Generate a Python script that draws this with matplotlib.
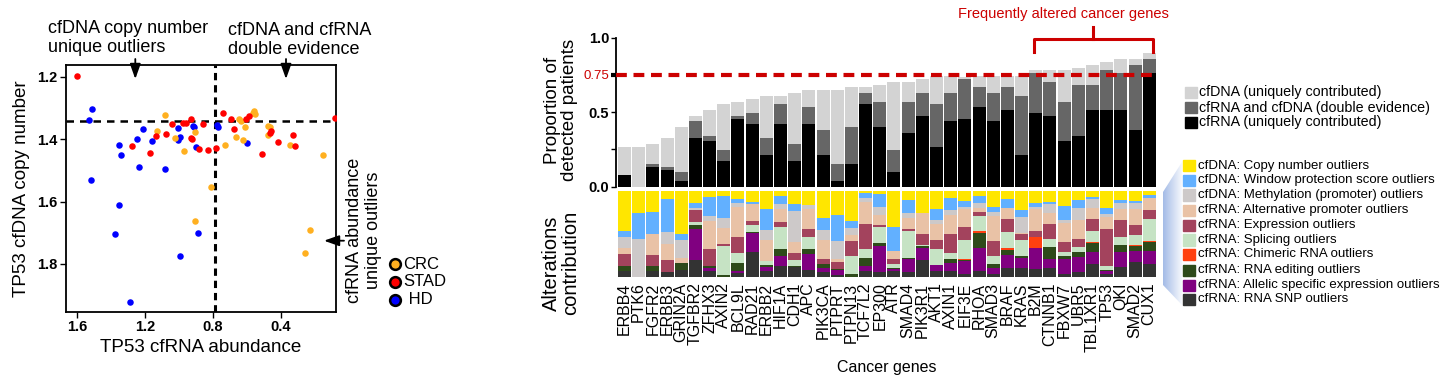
import matplotlib
matplotlib.use('Agg')
import matplotlib.pyplot as plt
import numpy as np
from matplotlib.patches import Rectangle, Polygon

plt.rcParams['font.family'] = ['Liberation Sans', 'DejaVu Sans']

W, H = 1453, 383

# %% scatter: TP53 cfRNA abundance vs cfDNA copy number
crc_x = [1.082, 1.126, 1.021, 0.968, 0.906, 0.908, 0.813, 0.731, 0.663, 0.645, 0.635,
         0.614, 0.622, 0.563, 0.557, 0.551, 0.479, 0.464, 0.479, 0.345, 0.152, 0.228, 0.261]
crc_y = [1.323, 1.373, 1.397, 1.438, 1.378, 1.662, 1.554, 1.419, 1.392, 1.337, 1.342,
         1.360, 1.403, 1.316, 1.310, 1.320, 1.357, 1.362, 1.387, 1.418, 1.452, 1.690, 1.765]
stad_x = [1.597, 1.277, 1.170, 1.136, 1.074, 1.041, 0.975, 0.960, 0.926, 0.926, 0.922,
          0.883, 0.860, 0.830, 0.781, 0.740, 0.694, 0.676, 0.604, 0.588, 0.510, 0.465,
          0.460, 0.417, 0.327, 0.317, 0.084]
stad_y = [1.197, 1.421, 1.444, 1.389, 1.384, 1.352, 1.347, 1.347, 1.336, 1.395, 1.400,
          1.433, 1.351, 1.435, 1.428, 1.317, 1.336, 1.366, 1.335, 1.326, 1.447, 1.381,
          1.375, 1.409, 1.387, 1.423, 1.331]
hd_x = [1.509, 1.526, 1.516, 1.349, 1.343, 1.353, 1.378, 1.246, 1.236, 1.212, 1.288,
        1.160, 1.082, 1.006, 0.996, 1.008, 0.916, 0.913, 0.901, 0.887, 0.992, 0.779,
        0.768, 0.600]
hd_y = [1.305, 1.340, 1.531, 1.419, 1.451, 1.610, 1.704, 1.400, 1.490, 1.369, 1.922,
        1.406, 1.497, 1.363, 1.394, 1.403, 1.357, 1.362, 1.426, 1.702, 1.774, 1.355,
        1.360, 1.411]
rna_cut, dna_cut = 0.79, 1.341
groups = ['CRC', 'STAD', 'HD']
group_colors = ['#ffb020', '#ff0000', '#0000ff']

# %% bars: proportion of detected patients per gene
genes = ['ERBB4', 'PTK6', 'FGFR2', 'ERBB3', 'GRIN2A', 'TGFBR2', 'ZFHX3', 'AXIN2', 'BCL9L',
         'RAD21', 'ERBB2', 'HIF1A', 'CDH1', 'APC', 'PIK3CA', 'PTPRT', 'PTPN13', 'TCF7L2',
         'EP300', 'ATR', 'SMAD4', 'PIK3R1', 'AKT1', 'AXIN1', 'EIF3E', 'RHOA', 'SMAD3',
         'BRAF', 'KRAS', 'B2M', 'CTNNB1', 'FBXW7', 'UBR5', 'TBL1XR1', 'TP53', 'QKI',
         'SMAD2', 'CUX1']
rna_only = [.078, 0, .132, .112, .038, .327, .306, .172, .454, .421, .213, .421, .172,
            .421, .213, .038, .152, .555, .400, .098, .360, .474, .266, .441, .454, .535,
            .441, .515, .213, .494, .474, .306, .340, .515, .515, .515, .380, .763]
double_ev = [0, 0, .020, .020, .063, .114, .034, .074, .020, .073, .114, .134, .114,
             .114, .167, .114, .248, .074, .168, .148, .208, .155, .289, .188, .269, .134,
             .188, .154, .396, .269, .228, .262, .342, .167, .268, .248, .437, .094]
dna_only = [.188, .266, .134, .195, .299, .033, .175, .309, .094, .094, .282, .054, .343,
            .114, .269, .497, .269, .040, .114, .456, .134, .094, .188, .114, .012, .074,
            .114, .074, .134, .020, .081, .215, .114, .135, .054, .094, .040, .040]
evidence_labels = ['cfDNA (uniquely contributed)', 'cfRNA and cfDNA (double evidence)',
                   'cfRNA (uniquely contributed)']
evidence_colors = ['#d3d3d3', '#666666', '#000000']

# %% alteration contribution (fractions per gene, stacked bottom -> top)
snp = [.066, 0, .066, .058, .082, .195, .066, 0, .043, .288, .066, .132, .113, .078, .054,
       .019, 0, .066, .058, .070, .058, .195, .066, .066, .039, .066, .031, .101, .109,
       .089, .101, .031, .058, .148, .039, .113, .171, .148]
ase = [0, 0, 0, 0, 0, .362, .039, 0, .023, .218, .047, .109, 0, .187, .054, .058, 0, .062,
       .304, .027, .148, .148, .070, .093, .144, .268, .074, .152, .109, .245, .105, .175,
       .171, .140, .031, .175, .128, .152]
editing = [.066, 0, .058, 0, .078, .047, .019, .019, .093, .016, .023, .082, .012, .058,
           .047, .012, .031, .089, .031, .012, .012, .012, 0, .047, .012, .175, .043, .058,
           .023, 0, .140, .035, .058, .105, .016, .082, .058, .105]
chimeric = [0, 0, 0, 0, 0, 0, 0, 0, 0, 0, 0, 0, 0, 0, 0, 0, 0, 0, 0, 0, 0, 0, 0, 0, .012,
            .023, 0, .023, 0, .128, 0, 0, 0, .012, 0, 0, .012, .012]
splicing = [0, 0, 0, 0, 0, .035, 0, .339, .117, .082, .047, .257, .070, .140, 0, 0, .210,
            .105, .187, .039, .315, .016, .187, .070, .222, .175, .093, .187, .187, 0,
            .093, .047, .058, .128, .039, .093, .117, .257]
expression = [.132, 0, .128, .136, 0, .140, .198, .023, .187, .047, 0, .058, .082, .093,
              .051, .082, .175, .292, .023, .058, .023, .128, .105, .222, .152, .047, .175,
              .152, .070, .070, .175, .117, .093, .140, .432, .198, .117, .105]
alt_promoter = [.070, 0, .245, .187, .066, 0, .327, .187, .350, .198, .245, .152, .128,
                .233, .230, .035, .070, .257, .113, .093, .128, .245, .187, .218, .210,
                .047, .292, .128, .012, .257, .128, .222, .222, .128, .140, .128, .187, .140]
methylation = [.128, .440, 0, .140, .202, .023, .058, .117, .047, 0, .117, .058, .362, .047,
               .109, .210, .082, .047, .097, 0, .058, 0, .047, .062, .023, .058, .047, 0,
               .187, .023, .105, .035, .140, .105, .035, .070, .070, 0]
wps = [.070, .303, .257, .385, .070, .058, .222, .257, .047, .023, .245, .093, .082, 0, .140,
       .303, .082, .058, .152, .280, .152, 0, .128, .140, .070, .082, .058, .105, .082, .047,
       .023, .163, .093, .023, .070, .035, .023, .035]
copy_number = [.467, .257, .245, .093, .502, .140, .070, .058, .093, .128, .210, .058, .152,
               .163, .315, .280, .350, .023, .035, .420, .105, .257, .210, .082, .117, .058,
               .187, .093, .222, .140, .128, .175, .105, .070, .198, .105, .117, .047]
contrib_stack = [snp, ase, editing, chimeric, splicing, expression, alt_promoter,
                 methylation, wps, copy_number]
contrib_colors = ['#333333', '#800080', '#2e4a1a', '#ff4010', '#c6e3c4', '#a3435d',
                  '#e9c2a6', '#cdc9c9', '#62b0ff', '#ffe600']
contrib_labels = ['cfRNA: RNA SNP outliers', 'cfRNA: Allelic specific expression outliers',
                  'cfRNA: RNA editing outliers', 'cfRNA: Chimeric RNA outliers',
                  'cfRNA: Splicing outliers', 'cfRNA: Expression outliers',
                  'cfRNA: Alternative promoter outliers',
                  'cfDNA: Methylation (promoter) outliers',
                  'cfDNA: Window protection score outliers', 'cfDNA: Copy number outliers']

RED = '#cc0000'


def fp(x, y):
    # image pixel (top-left origin) -> figure fraction
    return x / W, 1 - y / H


fig = plt.figure(figsize=(W / 100, H / 100), dpi=100)

# %% ---------------- scatter panel ----------------
ax = fig.add_axes([65.7 / W, 1 - 312 / H, 270.3 / W, 247 / H])
ax.scatter(hd_x, hd_y, s=22, color=group_colors[2], lw=0, zorder=3)
ax.scatter(crc_x, crc_y, s=22, color=group_colors[0], lw=0, zorder=3)
ax.scatter(stad_x, stad_y, s=22, color=group_colors[1], lw=0, zorder=3)
ax.axvline(rna_cut, color='k', lw=2.2, ls=(0, (2.4, 1.6)), zorder=2)
ax.axhline(dna_cut, color='k', lw=1.8, ls=(0, (3.0, 2.4)), zorder=2)
ax.set_xlim(1.665, 0.077)
ax.set_ylim(1.954, 1.1625)
ax.set_xticks([1.6, 1.2, 0.8, 0.4])
ax.set_xticklabels(['1.6', '1.2', '0.8', '0.4'], fontweight='bold')
ax.set_yticks([1.2, 1.4, 1.6, 1.8])
ax.set_yticklabels(['1.2', '1.4', '1.6', '1.8'], fontweight='bold')
ax.tick_params(length=4, width=1, labelsize=10.5, pad=2)
for s in ax.spines.values():
    s.set_linewidth(1.3)
ax.set_xlabel('TP53 cfRNA abundance', fontsize=13.5, labelpad=3)
ax.set_ylabel('TP53 cfDNA copy number', fontsize=13.5, labelpad=5)

fig.text(*fp(47.7, 38), 'cfDNA copy number\nunique outliers', fontsize=13,
         ha='left', va='center', linespacing=1.1)
fig.text(*fp(228.3, 40), 'cfDNA and cfRNA\ndouble evidence', fontsize=13,
         ha='left', va='center', linespacing=1.1)
fig.text(*fp(364, 230), 'cfRNA abundance\nunique outliers', fontsize=13,
         ha='center', va='center', rotation=90, linespacing=1.1)

arrow_kw = dict(arrowstyle='-|>,head_length=0.7,head_width=0.25', color='k', lw=1.3,
                mutation_scale=13, shrinkA=0, shrinkB=0)
for (x0, y0), (x1, y1) in [((135.3, 59), (135.3, 79)), ((286, 59), (286, 79)),
                           ((344, 240.7), (324, 240.7))]:
    ax.annotate('', xy=(x1, H - y1), xytext=(x0, H - y0), xycoords='figure pixels',
                textcoords='figure pixels', arrowprops=arrow_kw, annotation_clip=False)

for i, (g, c) in enumerate(zip(groups, group_colors)):
    yy = [264.3, 282, 300][i]
    ax.scatter([395 / W], [1 - yy / H], s=60, color=c, edgecolor='k', lw=1.8,
               transform=fig.transFigure, clip_on=False, zorder=5)
    fig.text(*fp(403.5, yy), g if g != 'HD' else ' ' + g, fontsize=12, ha='left',
             va='center')

# %% ---------------- proportion bars ----------------
x = np.arange(len(genes))
bw = 0.917
rna_only = np.array(rna_only)
double_ev = np.array(double_ev)
dna_only = np.array(dna_only)

axb = fig.add_axes([616 / W, 1 - 186.7 / H, 541.7 / W, 149 / H])
axb.bar(x, rna_only, width=bw, color=evidence_colors[2], lw=0)
axb.bar(x, double_ev, width=bw, bottom=rna_only, color=evidence_colors[1], lw=0)
axb.bar(x, dna_only, width=bw, bottom=rna_only + double_ev, color=evidence_colors[0], lw=0)
axb.axhline(0.75, color=RED, lw=3, ls=(0, (2.6, 1.6)), zorder=4)
axb.set_xlim(-0.6, len(genes) - 0.4)
axb.set_ylim(0, 1.0)
axb.set_xticks([])
axb.set_yticks([0, 0.25, 0.5, 0.75, 1.0])
axb.set_yticklabels(['0.0', '', '0.5', '0.75', '1.0'])
axb.tick_params(axis='y', length=3.5, width=1, labelsize=10.5, pad=1.5)
for lab, t in zip(axb.get_yticklabels(), axb.yaxis.get_major_ticks()):
    if lab.get_text() == '0.75':
        lab.set_color(RED)
        lab.set_fontsize(9.5)
        t.tick1line.set_color(RED)
        t.tick1line.set_markeredgewidth(3)
    else:
        lab.set_fontweight('bold')
for side in ['top', 'right', 'bottom']:
    axb.spines[side].set_visible(False)
axb.spines['left'].set_linewidth(1.3)

fig.text(*fp(561, 110), 'Proportion of\ndetected patients', fontsize=13.5,
         rotation=90, ha='center', va='center', linespacing=1.0)

# bracket over frequently altered genes
fig.add_artist(plt.Line2D([1034.3 / W, 1034.3 / W, 1152.7 / W, 1152.7 / W],
                          [1 - 51.7 / H, 1 - 39.3 / H, 1 - 39.3 / H, 1 - 51.7 / H],
                          color=RED, lw=2.2))
fig.add_artist(plt.Line2D([1093.3 / W, 1093.3 / W], [1 - 39.3 / H, 1 - 27.3 / H],
                          color=RED, lw=2.2))
fig.text(*fp(1063, 14), 'Frequently altered cancer genes', color=RED, fontsize=10.5,
         ha='center', va='center')

# %% ---------------- contribution stack ----------------
axc = fig.add_axes([616 / W, 1 - 277 / H, 541.7 / W, 86 / H])
bottom = np.zeros(len(genes))
for vals, col in zip(contrib_stack, contrib_colors):
    vals = np.array(vals)
    axc.bar(x, vals, width=bw, bottom=bottom, color=col, lw=0)
    bottom += vals
axc.set_xlim(-0.6, len(genes) - 0.4)
axc.set_ylim(0, 1.0)
axc.set_yticks([])
axc.set_xticks(x)
axc.set_xticklabels(genes, rotation=90, fontsize=11.5)
axc.tick_params(axis='x', length=0, pad=4)
for s in axc.spines.values():
    s.set_visible(False)
axc.set_xlabel('Cancer genes', fontsize=11.5, labelpad=6)

fig.text(*fp(561, 263), 'Alterations\ncontribution', fontsize=14.5,
         rotation=90, ha='center', va='center', linespacing=1.0)

# %% ---------------- legends ----------------
for i, (lab, col) in enumerate(zip(evidence_labels, evidence_colors)):
    yc = [92.3, 107.7, 122.3][i]
    fig.patches.append(Rectangle(fp(1185, yc + 5.6), 11.7 / W, 11.2 / H, color=col,
                                 transform=fig.transFigure, figure=fig))
    fig.text(*fp(1199.3, yc), lab, fontsize=10.3, ha='left', va='center')

leg2_y = [165.7, 180.3, 195, 210.3, 225.3, 240, 254.3, 270.3, 285.3, 299.3]
for yc, lab, col in zip(leg2_y, contrib_labels[::-1], contrib_colors[::-1]):
    fig.patches.append(Rectangle(fp(1182.7, yc + 5.8), 12.3 / W, 11.6 / H, color=col,
                                 transform=fig.transFigure, figure=fig))
    fig.text(*fp(1198.3, yc), lab, fontsize=9.5, ha='left', va='center')

# light blue callout between the stack and its legend
gax = fig.add_axes([1160 / W, 1 - 312 / H, 26 / W, 160 / H])
gax.set_xlim(1160, 1186)
gax.set_ylim(312, 152)
gax.axis('off')
grad = np.zeros((2, 60, 4))
grad[..., 0], grad[..., 1], grad[..., 2] = 0.62, 0.72, 0.90
grad[..., 3] = np.linspace(0.95, 0.0, 60)[None, :]
im = gax.imshow(grad, extent=(1163, 1184, 312, 152), aspect='auto', interpolation='bilinear')
clip = Polygon([(1163, 192), (1182, 162), (1182, 305), (1163, 285)], closed=True,
               transform=gax.transData, fc='none', ec='none')
gax.add_patch(clip)
im.set_clip_path(clip)

fig.savefig('out.png', dpi=100)
